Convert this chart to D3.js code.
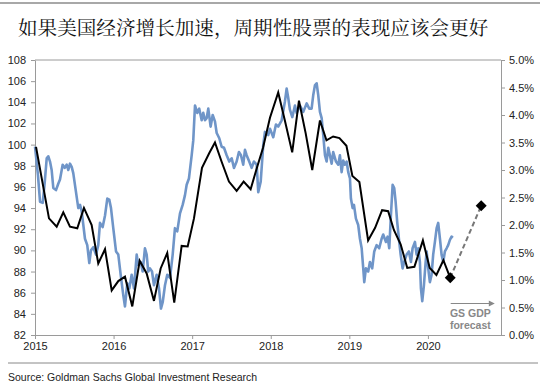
<!DOCTYPE html>
<html><head><meta charset="utf-8">
<script src="https://cdn.jsdelivr.net/npm/d3@7"></script>
<style>
html,body{margin:0;padding:0;background:#fff;}
svg{display:block;font-family:"Liberation Sans",Arial,sans-serif;}
</style></head>
<body>
<svg id="chart" width="550" height="387"></svg>
<script>
// ---------- DATA ----------
const titleText = "如果美国经济增长加速，周期性股票的表现应该会更好";
const sourceText = "Source: Goldman Sachs Global Investment Research";
const yearTicks = [2015, 2016, 2017, 2018, 2019, 2020];
const leftTicks = [82, 84, 86, 88, 90, 92, 94, 96, 98, 100, 102, 104, 106, 108];
const rightTicks = [0, 0.005, 0.01, 0.015, 0.02, 0.025, 0.03, 0.035, 0.04, 0.045, 0.05];

// Blue series (left axis), decimal years
const blueYears = [
2015.000,2015.038,2015.064,2015.098,2015.121,2015.149,2015.169,2015.191,2015.212,2015.233,
2015.267,2015.296,2015.318,2015.352,2015.378,2015.403,2015.424,2015.445,2015.467,2015.487,
2015.518,2015.551,2015.573,2015.594,2015.615,2015.636,2015.665,2015.691,2015.712,2015.742,
2015.776,2015.805,2015.827,2015.861,2015.891,2015.920,2015.945,2015.967,2015.996,2016.031,
2016.060,2016.090,2016.123,2016.145,2016.174,2016.200,2016.230,2016.260,2016.294,2016.314,
2016.345,2016.370,2016.399,2016.421,2016.441,2016.463,2016.489,2016.514,2016.548,2016.578,
2016.603,2016.625,2016.654,2016.683,2016.718,2016.752,2016.781,2016.810,2016.845,2016.879,
2016.908,2016.930,2016.959,2016.994,2017.014,2017.036,2017.065,2017.090,2017.121,2017.141,
2017.163,2017.184,2017.205,2017.235,2017.261,2017.290,2017.312,2017.345,2017.375,2017.405,
2017.439,2017.472,2017.503,2017.532,2017.566,2017.595,2017.621,2017.650,2017.672,2017.693,
2017.726,2017.757,2017.786,2017.821,2017.841,2017.872,2017.905,2017.926,2017.968,2017.990,
2018.032,2018.066,2018.095,2018.139,2018.181,2018.202,2018.223,2018.244,2018.274,2018.308,
2018.330,2018.372,2018.414,2018.457,2018.490,2018.520,2018.541,2018.562,2018.584,2018.604,
2018.626,2018.648,2018.668,2018.690,2018.711,2018.732,2018.753,2018.775,2018.795,2018.830,
2018.859,2018.880,2018.902,2018.922,2018.944,2018.966,2018.986,2019.008,2019.020,2019.042,
2019.059,2019.084,2019.113,2019.135,2019.157,2019.177,2019.190,2019.211,2019.240,2019.262,
2019.291,2019.317,2019.347,2019.380,2019.411,2019.431,2019.466,2019.487,2019.508,2019.529,
2019.551,2019.571,2019.589,2019.609,2019.631,2019.653,2019.678,2019.698,2019.729,2019.758,
2019.784,2019.805,2019.835,2019.856,2019.877,2019.898,2019.911,2019.928,2019.949,2019.971,
2019.984,2020.004,2020.025,2020.047,2020.067,2020.089,2020.111,2020.131,2020.153,2020.174,
2020.195,2020.216,2020.238,2020.258,2020.280,2020.301,2020.318
];
const blueValues = [
99.8,97.1,94.6,94.5,96.2,98.7,98.9,98.4,97.6,95.9,
95.7,96.3,96.7,98.1,97.8,98.1,97.6,98.2,97.9,97.3,
95.7,94.0,94.3,93.7,92.4,91.1,90.5,88.8,90.0,90.3,
89.6,90.5,92.6,92.2,93.3,94.9,94.8,94.0,92.1,89.9,
89.6,87.7,85.8,84.7,86.9,86.4,87.7,86.4,89.6,88.6,
88.9,88.0,90.2,89.6,88.0,88.3,88.0,86.7,87.7,86.4,
84.5,85.1,86.7,87.7,87.4,89.6,92.1,91.8,93.5,94.3,
95.2,96.2,96.8,99.0,100.4,103.7,103.0,103.4,102.3,103.0,
102.3,102.5,103.4,101.7,102.8,102.2,101.1,100.6,99.8,99.7,
99.0,98.4,98.7,97.8,98.4,99.3,99.0,98.1,99.5,99.0,
98.4,97.8,98.4,98.1,95.5,96.5,100.0,101.2,100.9,101.5,
100.7,101.9,101.7,102.3,104.1,105.3,104.4,103.3,102.6,103.7,
103.0,103.7,103.1,103.9,103.4,103.4,104.7,105.6,105.8,104.7,
103.1,102.5,100.9,99.0,98.4,99.7,99.0,98.2,99.3,98.4,
98.1,99.0,97.4,98.5,98.1,98.4,97.4,96.8,94.9,94.0,
94.3,93.0,92.4,91.1,90.2,88.3,87.0,88.3,88.0,88.9,
88.3,89.9,90.5,90.2,91.1,91.5,90.8,91.3,90.2,93.3,
96.2,95.9,94.6,92.7,91.1,89.6,88.3,88.9,89.6,89.9,
88.9,90.2,90.8,89.6,90.2,88.9,86.4,85.2,86.7,88.9,
89.9,88.3,87.0,87.7,89.6,90.8,92.1,92.6,91.1,89.6,
88.9,89.9,90.2,90.5,91.0,91.3,91.2
];

// Black series (right axis, GDP growth %), decimal years
const blackYears = [
2015.013,2015.178,2015.276,2015.360,2015.445,2015.538,2015.623,2015.721,2015.805,2015.891,
2015.976,2016.060,2016.145,2016.238,2016.332,2016.421,2016.514,2016.599,2016.683,2016.772,
2016.866,2016.943,2017.023,2017.125,2017.218,2017.290,2017.375,2017.468,2017.566,2017.655,
2017.744,2017.824,2017.901,2017.990,2018.095,2018.181,2018.273,2018.359,2018.444,2018.528,
2018.626,2018.709,2018.794,2018.874,2018.963,2019.039,2019.128,2019.239,2019.328,2019.417,
2019.494,2019.567,2019.653,2019.737,2019.828,2019.936,2020.023,2020.108,2020.197,2020.284
];
const blackPct = [
3.42,2.12,1.97,2.23,1.97,1.94,2.31,2.00,1.30,1.56,
0.81,0.98,1.06,0.52,1.35,1.12,0.62,1.21,1.49,0.59,
1.62,1.61,2.12,3.04,3.31,3.50,3.15,2.79,2.62,2.79,
2.65,3.04,3.40,3.95,4.41,3.89,3.32,4.26,3.67,3.00,
3.90,3.54,3.61,3.58,3.44,2.89,2.78,1.72,1.95,2.27,
2.25,1.91,1.65,1.22,1.24,1.72,1.22,1.09,1.36,1.04
];
// GS GDP forecast (from last actual point to forecast point)
const forecastYears = [2020.284, 2020.678];
const forecastPct = [1.04, 2.35];

// ---------- CHART ----------
const svg = d3.select("#chart");
const L = 35, R = 501, T = 60, B = 335;
const x = d3.scaleLinear().domain([2015, 2020.93]).range([L, R]);
const yL = d3.scaleLinear().domain([82, 108]).range([B, T]);
const yR = d3.scaleLinear().domain([0, 0.05]).range([B, T]);
const axisColor = "#9a9a9a", textColor = "#222";

// top rule and title
svg.append("line").attr("x1", 0).attr("x2", 540).attr("y1", 3).attr("y2", 3)
  .attr("stroke", "#a8a8a8").attr("stroke-width", 2);
svg.append("text").attr("x", 18).attr("y", 35)
  .attr("font-family", "'Noto Serif CJK SC','Noto Sans CJK SC',sans-serif")
  .attr("font-size", 19.6).attr("fill", "#111").text(titleText);

// plot frame top
svg.append("line").attr("x1", L).attr("x2", R).attr("y1", T).attr("y2", T)
  .attr("stroke", axisColor).attr("stroke-width", 1);

function styleAxis(g) {
  g.selectAll(".domain").attr("stroke", axisColor);
  g.selectAll(".tick line").attr("stroke", axisColor);
  g.selectAll("text").attr("fill", textColor).attr("font-size", 11)
    .attr("font-family", "'Liberation Sans',Arial,sans-serif");
}
svg.append("g").attr("transform", `translate(${L},0)`)
  .call(d3.axisLeft(yL).tickValues(leftTicks).tickSize(4).tickSizeOuter(0).tickPadding(5).tickFormat(d3.format("d")))
  .call(styleAxis);
svg.append("g").attr("transform", `translate(${R},0)`)
  .call(d3.axisRight(yR).tickValues(rightTicks).tickSize(4).tickSizeOuter(0).tickPadding(4).tickFormat(d3.format(".1%")))
  .call(styleAxis);
svg.append("g").attr("transform", `translate(0,${B})`)
  .call(d3.axisBottom(x).tickValues(yearTicks).tickSize(4).tickSizeOuter(0).tickPadding(3).tickFormat(d3.format("d")))
  .call(styleAxis);

// blue line
const blueData = d3.zip(blueYears, blueValues);
svg.append("path").datum(blueData)
  .attr("fill", "none").attr("stroke", "#6f95c8").attr("stroke-width", 2.6)
  .attr("stroke-linejoin", "round")
  .attr("d", d3.line().x(d => x(d[0])).y(d => yL(d[1])));

// black line
const blackData = d3.zip(blackYears, blackPct);
svg.append("path").datum(blackData)
  .attr("fill", "none").attr("stroke", "#000").attr("stroke-width", 2)
  .attr("stroke-linejoin", "miter")
  .attr("d", d3.line().x(d => x(d[0])).y(d => yR(d[1] / 100)));

// forecast dashed
const fcData = d3.zip(forecastYears, forecastPct);
svg.append("path").datum(fcData)
  .attr("fill", "none").attr("stroke", "#777").attr("stroke-width", 2)
  .attr("stroke-dasharray", "5,3")
  .attr("d", d3.line().x(d => x(d[0])).y(d => yR(d[1] / 100)));

// diamonds
svg.selectAll(".dia").data(fcData).enter().append("path")
  .attr("d", d3.symbol().type(d3.symbolSquare).size(60))
  .attr("transform", d => `translate(${x(d[0])},${yR(d[1] / 100)}) rotate(45)`)
  .attr("fill", "#000");

// GS GDP forecast annotation
const annX = x(2020.54);
const arr = svg.append("g");
arr.append("line").attr("x1", x(2020.29)).attr("x2", x(2020.80)).attr("y1", 303.5).attr("y2", 303.5)
  .attr("stroke", "#888").attr("stroke-width", 1.2);
arr.append("path").attr("d", `M${x(2020.80)+4},303.5 L${x(2020.80)-2},300.5 L${x(2020.80)-2},306.5 Z`).attr("fill", "#888");
svg.append("text").attr("x", annX).attr("y", 316.5).attr("text-anchor", "middle")
  .attr("font-size", 10.5).attr("font-weight", "bold").attr("fill", "#888").text("GS GDP");
svg.append("text").attr("x", annX).attr("y", 328.5).attr("text-anchor", "middle")
  .attr("font-size", 10.5).attr("font-weight", "bold").attr("fill", "#888").text("forecast");

// bottom rule + source
svg.append("line").attr("x1", 8).attr("x2", 538).attr("y1", 363).attr("y2", 363)
  .attr("stroke", "#888").attr("stroke-width", 1);
svg.append("text").attr("x", 8).attr("y", 381).attr("font-size", 10.5).attr("fill", "#222").text(sourceText);
</script>
</body></html>
